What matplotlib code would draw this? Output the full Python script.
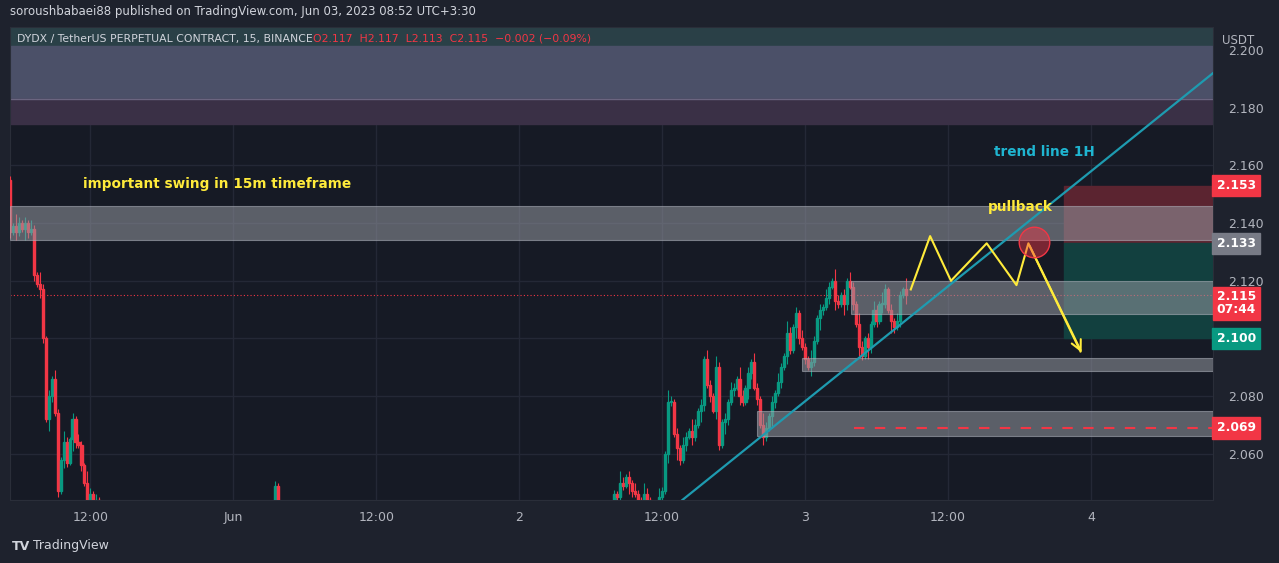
import matplotlib
matplotlib.use("Agg")
import matplotlib.pyplot as plt
from matplotlib.patches import Rectangle

# ── Data (15m candles, x = candle index) ───────────────────────────────────
SEG_A_START = 0
SEG_A_OPEN = 2.155
SEG_A_CLOSE = [2.137, 2.139, 2.137, 2.140, 2.138, 2.140, 2.137, 2.138, 2.122, 2.119,
               2.117, 2.100, 2.072, 2.080, 2.086, 2.074, 2.047, 2.058, 2.064, 2.057,
               2.065, 2.072, 2.064, 2.063, 2.056, 2.050, 2.044, 2.046, 2.040, 2.044, 2.035]
SEG_B_START = 89
SEG_B_OPEN = 2.044
SEG_B_CLOSE = [2.049, 2.044]
SEG_C_START = 203
SEG_C_OPEN = 2.044
SEG_C_CLOSE = [2.046, 2.045, 2.050, 2.049, 2.052, 2.050, 2.047, 2.046, 2.044, 2.043,
               2.046, 2.044, 2.042, 2.041, 2.040, 2.045, 2.047, 2.060, 2.078, 2.078,
               2.067, 2.062, 2.058, 2.063, 2.066, 2.068, 2.066, 2.070, 2.075, 2.077,
               2.093, 2.084, 2.080, 2.075, 2.090, 2.063, 2.071, 2.072, 2.078, 2.082,
               2.083, 2.086, 2.080, 2.078, 2.083, 2.088, 2.092, 2.083, 2.079, 2.070,
               2.066, 2.069, 2.073, 2.078, 2.081, 2.085, 2.090, 2.094, 2.102, 2.096,
               2.104, 2.109, 2.100, 2.097, 2.093, 2.090, 2.092, 2.099, 2.107, 2.110,
               2.111, 2.114, 2.118, 2.120, 2.113, 2.112, 2.115, 2.112, 2.120, 2.118,
               2.112, 2.105, 2.097, 2.094, 2.100, 2.097, 2.105, 2.110, 2.106, 2.112,
               2.112, 2.117, 2.110, 2.106, 2.104, 2.106, 2.115, 2.117, 2.115]
WICK = [0.002, 0.001, 0.003, 0.0015, 0.001, 0.004, 0.002, 0.001]

X_TICKS = [27, 75, 123, 171, 219, 267, 315, 363]
X_LABELS = ["12:00", "Jun", "12:00", "2", "12:00", "3", "12:00", "4"]
Y_TICKS = [2.060, 2.080, 2.100, 2.120, 2.140, 2.160, 2.180, 2.200]
Y_LABELS = ["2.060", "2.080", "", "2.120", "2.140", "2.160", "2.180", "2.200"]

TREND = ([225.8, 404.0], [2.044, 2.192])
ZIGZAG_X = [302.5, 309, 316, 328, 338, 342, 359.5]
ZIGZAG_Y = [2.117, 2.1355, 2.120, 2.133, 2.1185, 2.133, 2.0955]

UP, DN = "#089981", "#f23645"
BG = "#161a25"

fig = plt.figure(figsize=(12.79, 5.63), dpi=100)
fig.patch.set_facecolor("#1e222d")
ax = fig.add_axes([10 / 1279, 63 / 563, 1203 / 1279, 473 / 563])
ax.set_facecolor(BG)
ax.set_xlim(0, 404)
ax.set_ylim(2.044, 2.208)

for x in X_TICKS:
    ax.axvline(x, color="#242836", lw=1, zorder=0)
for y in Y_TICKS:
    ax.axhline(y, color="#242836", lw=1, zorder=0)

# zones
ax.add_patch(Rectangle((0, 2.2015), 404, 0.0065, color="#2a4047", zorder=1))
ax.add_patch(Rectangle((0, 2.183), 404, 0.0185, color="#4b5068", zorder=1))
ax.add_patch(Rectangle((0, 2.1745), 404, 0.0085, color="#3a3046", zorder=1))
ax.axhline(2.183, color="#6b6580", lw=1, zorder=1)
ax.add_patch(Rectangle((354, 2.133), 50, 0.020, color="#5b2430", zorder=1))
ax.add_patch(Rectangle((354, 2.100), 50, 0.033, color="#12403f", zorder=1))


def draw(start, open_, closes):
    prev = open_
    for k, c in enumerate(closes):
        i = start + k
        o = prev
        col = UP if c >= o else DN
        ax.vlines(i, min(o, c) - WICK[k % len(WICK)], max(o, c) + WICK[(k + 3) % len(WICK)],
                  color=col, lw=0.8, zorder=3)
        ax.add_patch(Rectangle((i - 0.35, min(o, c)), 0.7, max(abs(c - o), 0.0004), color=col, zorder=3))
        prev = c


draw(SEG_A_START, SEG_A_OPEN, SEG_A_CLOSE)
draw(SEG_B_START, SEG_B_OPEN, SEG_B_CLOSE)
draw(SEG_C_START, SEG_C_OPEN, SEG_C_CLOSE)

# gray boxes on top of candles
box = dict(facecolor="#9598a1", alpha=0.55, edgecolor="#b2b5be", lw=0.8, zorder=4)
ax.add_patch(Rectangle((0, 2.134), 404, 0.012, **box))
ax.add_patch(Rectangle((282.5, 2.1085), 121.5, 0.0115, **box))
ax.add_patch(Rectangle((266, 2.0888), 138, 0.0045, **box))
ax.add_patch(Rectangle((250.7, 2.0662), 153.3, 0.0087, **box))

ax.plot([283.5, 404], [2.069, 2.069], color=DN, lw=1.5, ls=(0, (5, 5)), zorder=5)
ax.axhline(2.115, color=DN, lw=0.8, ls=(0, (1, 2)), zorder=2)
ax.plot(*TREND, color="#1e9bb0", lw=1.6, zorder=6)
ax.plot(ZIGZAG_X, ZIGZAG_Y, color="#ffeb3b", lw=1.5, zorder=7)
ax.annotate("", xy=(ZIGZAG_X[-1] + 0.8, ZIGZAG_Y[-1] - 0.0012), xytext=(ZIGZAG_X[-2], ZIGZAG_Y[-2]),
            arrowprops=dict(arrowstyle="->", color="#ffeb3b", lw=1.5, mutation_scale=18), zorder=7)
ax.plot([344], [2.1335], "o", ms=22, mfc=(0.95, 0.21, 0.27, 0.45), mec=DN, zorder=8)

ax.text(24.5, 2.1535, "important swing in 15m timeframe", color="#ffeb3b", fontsize=9.8,
        fontweight="bold", va="center", zorder=9)
ax.text(328.5, 2.1455, "pullback", color="#ffeb3b", fontsize=9.8, fontweight="bold", va="center", zorder=9)
ax.text(330.5, 2.1645, "trend line 1H", color="#1fb5d1", fontsize=9.8, fontweight="bold", va="center", zorder=9)

# legend line
ax.text(0.006, 0.975, "DYDX / TetherUS PERPETUAL CONTRACT, 15, BINANCE", transform=ax.transAxes,
        color="#d1d4dc", fontsize=7.8, va="center", zorder=9)
ax.text(0.252, 0.975, "O2.117  H2.117  L2.113  C2.115  −0.002 (−0.09%)", transform=ax.transAxes,
        color=DN, fontsize=7.8, va="center", zorder=9)

ax.set_xticks(X_TICKS)
ax.set_xticklabels(X_LABELS)
ax.yaxis.tick_right()
ax.set_yticks(Y_TICKS)
ax.set_yticklabels(Y_LABELS)
ax.tick_params(colors="#b2b5be", labelsize=9, length=0, pad=8)
ax.tick_params(axis="y", pad=11)
for s in ax.spines.values():
    s.set_color("#2a2e39")

# price tags
TAGS = [(2.153, "2.153", DN), (2.133, "2.133", "#787b86"), (2.100, "2.100", UP), (2.069, "2.069", DN)]
for y, t, c in TAGS:
    ax.text(1.003, y, t, transform=ax.get_yaxis_transform(), color="white", fontsize=8.8,
            fontweight="bold", va="center", ha="left",
            bbox=dict(boxstyle="square,pad=0.35", fc=c, ec=c), zorder=10, clip_on=False)
ax.text(1.003, 2.1122, "2.115\n07:44", transform=ax.get_yaxis_transform(), color="white", fontsize=8.8,
        fontweight="bold", va="center", ha="left", linespacing=1.0,
        bbox=dict(boxstyle="square,pad=0.3", fc=DN, ec=DN), zorder=10, clip_on=False)

fig.text(1222 / 1279, 1 - 40 / 563, "USDT", color="#b2b5be", fontsize=8.5, va="center")
fig.text(10 / 1279, 1 - 12 / 563,
         "soroushbabaei88 published on TradingView.com, Jun 03, 2023 08:52 UTC+3:30",
         color="#d1d4dc", fontsize=8.5, va="center")
fig.text(12 / 1279, 1 - 546 / 563, "TV", color="#d1d4dc", fontsize=9, fontweight="bold", va="center")
fig.text(33 / 1279, 1 - 546 / 563, "TradingView", color="#d1d4dc", fontsize=9, va="center")

fig.savefig("out.png", dpi=100, facecolor=fig.get_facecolor())
